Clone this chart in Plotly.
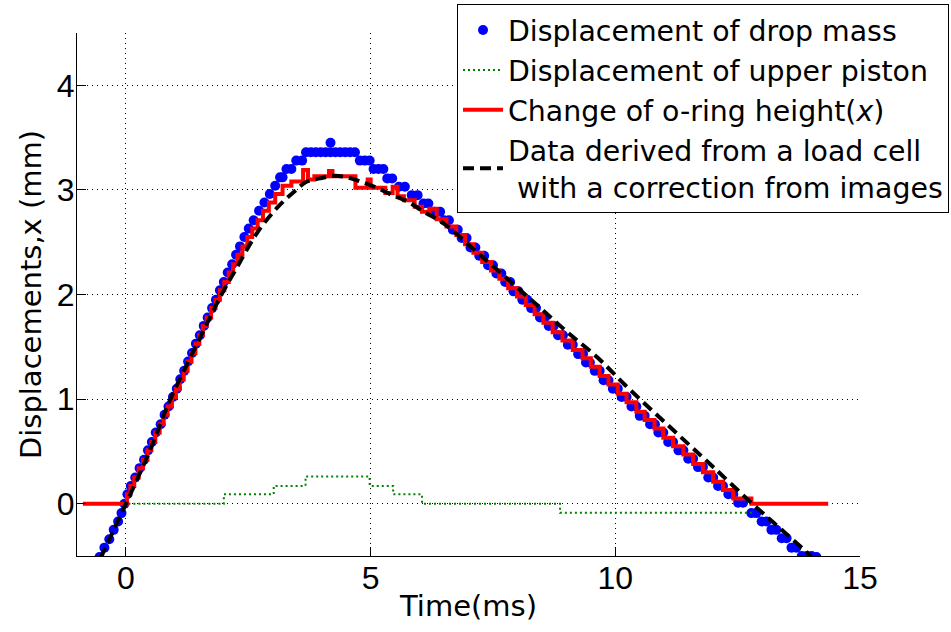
import plotly.graph_objects as go

# ---- Displacement of drop mass (blue dots) ----
mass_t = [-0.54, -0.44, -0.34, -0.25, -0.16, -0.09, -0.03, 0.03, 0.10, 0.19, 0.28, 0.37, 0.45, 0.53,
          0.61, 0.71, 0.79, 0.87, 0.96, 1.04, 1.11, 1.19, 1.27, 1.35, 1.43, 1.51, 1.59, 1.67, 1.76,
          1.84, 1.92, 2.00, 2.08, 2.17, 2.25, 2.33, 2.42, 2.51, 2.61, 2.72, 2.83, 2.94, 3.05,
          3.15, 3.20, 3.28, 3.38, 3.48, 3.60,
          3.68, 3.78, 3.88, 3.98, 4.08, 4.18, 4.28, 4.38, 4.48, 4.58, 4.68, 4.18,
          4.78, 4.88, 4.98, 5.06, 5.16, 5.26, 5.34, 5.44, 5.58, 5.70, 5.84, 5.96, 6.08, 6.18,
          6.30, 6.42, 6.50, 6.60, 6.68, 6.78, 6.86, 6.96, 7.04, 7.14, 7.22, 7.32, 7.40, 7.50,
          7.57, 7.67, 7.75, 7.85, 7.92, 8.02, 8.10, 8.20, 8.28, 8.38, 8.46, 8.56, 8.64, 8.74,
          8.83, 8.93, 9.03, 9.13, 9.24, 9.34, 9.40, 9.48, 9.58, 9.68, 9.76, 9.86, 9.95, 10.05,
          10.13, 10.23, 10.33, 10.43, 10.50, 10.60, 10.71, 10.81, 10.88, 10.98, 11.08, 11.18,
          11.29, 11.39, 11.49, 11.59, 11.69, 11.79, 11.90, 12.00, 12.10, 12.20, 12.31, 12.41,
          12.51, 12.61, 12.78, 12.88, 12.99, 13.09, 13.19, 13.29, 13.40, 13.50, 13.60, 13.70,
          13.81, 13.91, 14.01, 14.11]
mass_x = [-0.51, -0.42, -0.34, -0.25, -0.17, -0.09, 0.00, 0.09, 0.17, 0.25, 0.34, 0.42, 0.51, 0.59,
          0.68, 0.76, 0.85, 0.93, 1.02, 1.10, 1.19, 1.27, 1.36, 1.44, 1.53, 1.61, 1.70, 1.78, 1.87,
          1.95, 2.04, 2.12, 2.21, 2.29, 2.38, 2.46, 2.55, 2.63, 2.71, 2.80, 2.88, 2.96, 3.04,
          3.12, 3.12, 3.20, 3.20, 3.28, 3.28,
          3.36, 3.36, 3.36, 3.36, 3.36, 3.36, 3.36, 3.36, 3.36, 3.36, 3.36, 3.45,
          3.28, 3.28, 3.28, 3.20, 3.20, 3.20, 3.11, 3.11, 3.03, 3.03, 2.95, 2.95, 2.87, 2.87,
          2.79, 2.79, 2.71, 2.71, 2.62, 2.62, 2.54, 2.54, 2.45, 2.45, 2.37, 2.37, 2.28, 2.28,
          2.20, 2.20, 2.12, 2.12, 2.03, 2.03, 1.95, 1.95, 1.87, 1.87, 1.78, 1.78, 1.70, 1.70,
          1.61, 1.61, 1.52, 1.52, 1.43, 1.43, 1.35, 1.35, 1.27, 1.27, 1.18, 1.18, 1.10, 1.10,
          1.02, 1.02, 0.93, 0.93, 0.84, 0.84, 0.76, 0.76, 0.68, 0.68, 0.59, 0.59,
          0.51, 0.51, 0.43, 0.43, 0.35, 0.35, 0.25, 0.25, 0.17, 0.17, 0.09, 0.09,
          0.01, 0.01, -0.09, -0.09, -0.17, -0.17, -0.25, -0.25, -0.33, -0.33, -0.42, -0.42,
          -0.50, -0.50, -0.50, -0.51]

# ---- Displacement of upper piston (green dotted, stepped) ----
piston_t = [0.05, 2.00, 3.02, 3.67, 4.98, 5.46, 6.05, 8.87, 12.85]
piston_x = [0.00, 0.09, 0.17, 0.26, 0.17, 0.09, 0.00, -0.087, -0.087]

# ---- Change of o-ring height (red, stepped) ----
oring_t = [-0.88, 0.02, 0.09, 0.17, 0.26, 0.35, 0.44, 0.52, 0.60, 0.69, 0.77, 0.85, 0.94, 1.02,
           1.10, 1.18, 1.26, 1.34, 1.42, 1.50, 1.57, 1.65, 1.74, 1.83, 1.92, 2.01, 2.10, 2.19,
           2.28, 2.38, 2.48, 2.58, 2.69, 2.80, 2.92, 3.05, 3.20, 3.38, 3.62, 3.72, 3.85, 4.15,
           4.22, 4.69, 4.94, 5.00, 5.30, 5.45, 5.55, 5.68, 5.90, 6.05, 6.20, 6.35, 6.55, 6.75,
           6.93, 7.10, 7.28, 7.46, 7.63, 7.81, 7.99, 8.17, 8.35, 8.53, 8.72, 8.92, 9.13, 9.33,
           9.50, 9.68, 9.86, 10.05, 10.23, 10.43, 10.60, 10.80, 10.98, 11.18, 11.39, 11.59,
           11.79, 12.00, 12.20, 12.41, 12.78, 14.35]
oring_x = [0.00, 0.09, 0.17, 0.25, 0.34, 0.42, 0.51, 0.59, 0.68, 0.76, 0.85, 0.93, 1.02, 1.10,
           1.19, 1.27, 1.36, 1.44, 1.53, 1.61, 1.70, 1.78, 1.87, 1.95, 2.04, 2.12, 2.21, 2.29,
           2.38, 2.46, 2.55, 2.63, 2.71, 2.80, 2.88, 2.96, 3.04, 3.08, 3.19, 3.10, 3.13, 3.18,
           3.13, 3.02, 3.10, 3.02, 2.97, 3.03, 2.94, 2.90, 2.84, 2.79, 2.82, 2.72, 2.65, 2.57,
           2.48, 2.40, 2.31, 2.23, 2.15, 2.06, 1.98, 1.90, 1.81, 1.73, 1.64, 1.56, 1.47, 1.39,
           1.31, 1.22, 1.14, 1.05, 0.97, 0.88, 0.80, 0.72, 0.63, 0.55, 0.47, 0.38,
           0.30, 0.21, 0.13, 0.05, 0.00, 0.00]

# ---- Load cell derived data (black dashed) ----
cell_t = [-0.52, 0.00, 0.50, 0.91, 1.52, 1.93, 2.27, 2.68, 3.09, 3.43, 3.70, 3.97, 4.25, 4.52,
          4.79, 5.13, 5.44, 5.75, 6.09, 6.43, 6.73, 7.11, 7.55, 8.06, 8.47, 9.02, 9.63, 10.21,
          10.80, 11.40, 12.00, 12.80, 13.40, 14.00]
cell_x = [-0.52, 0.00, 0.52, 1.00, 1.59, 1.98, 2.26, 2.59, 2.83, 2.98, 3.08, 3.11, 3.135, 3.12,
          3.08, 3.02, 2.95, 2.89, 2.79, 2.70, 2.59, 2.43, 2.25, 2.04, 1.87, 1.64, 1.40, 1.13,
          0.87, 0.61, 0.35, 0.00, -0.25, -0.50]

x_ticks = [0, 5, 10, 15]
y_ticks = [0, 1, 2, 3, 4]

LBL_FONT = dict(family="DejaVu Sans", size=29, color="black")
LEG_FONT = dict(family="DejaVu Sans", size=28.4, color="black")
TICK_FONT = dict(family="Liberation Sans", size=32, color="black")

fig = go.Figure()
fig.add_trace(go.Scatter(x=mass_t, y=mass_x, mode="markers", name="Displacement of drop mass",
                         marker=dict(color="#0000ff", size=10, line=dict(width=0))))
fig.add_trace(go.Scatter(x=piston_t, y=piston_x, mode="lines", line_shape="hv",
                         name="Displacement of upper piston",
                         line=dict(color="#008000", width=2, dash="2px,3px")))
fig.add_trace(go.Scatter(x=oring_t, y=oring_x, mode="lines", line_shape="hv",
                         name="Change of o-ring height(<i>x</i>)",
                         line=dict(color="#ff0000", width=4)))
fig.add_trace(go.Scatter(x=cell_t, y=cell_x, mode="lines", line_shape="spline",
                         name="Data derived from a load cell<br> with a correction from images",
                         line=dict(color="black", width=4, dash="11px,6px")))

axis_common = dict(showgrid=True, gridcolor="black", griddash="1px,4px", gridwidth=1,
                   showline=True, linecolor="black", linewidth=1, ticks="inside",
                   ticklen=9, tickcolor="black", zeroline=False, mirror=False,
                   tickfont=TICK_FONT, automargin=False)
fig.update_xaxes(range=[-1, 15], tickvals=x_ticks, ticktext=[str(v) for v in x_ticks],
                 ticklabelstandoff=-6,
                 title=dict(text="Time(ms)", font=LBL_FONT, standoff=0), **axis_common)
fig.update_yaxes(range=[-0.5, 4.5], tickvals=y_ticks, ticktext=[str(v) for v in y_ticks],
                 ticklabelstandoff=-5,
                 title=dict(text="Displacements,x (mm)", font=LBL_FONT, standoff=6), **axis_common)

fig.update_layout(
    width=951, height=632, autosize=False,
    margin=dict(l=77, r=91, t=33, b=76, autoexpand=False),
    paper_bgcolor="white", plot_bgcolor="white",
    legend=dict(x=(949 - 77) / 783, y=(556 - 4) / 523, xanchor="right", yanchor="top",
                bgcolor="white", bordercolor="black", borderwidth=1,
                font=LEG_FONT, tracegroupgap=0, itemwidth=40),
)
fig.write_html("out.html")
